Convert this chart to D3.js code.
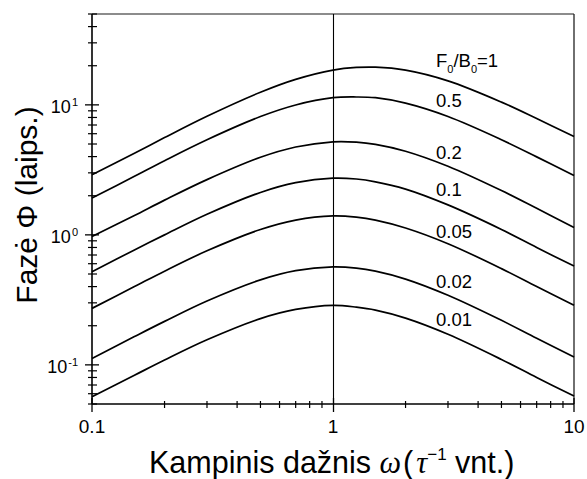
<!DOCTYPE html>
<html>
<head>
<meta charset="utf-8">
<script src="https://cdn.jsdelivr.net/npm/d3@7"></script>
<style>
  html, body { margin: 0; padding: 0; background: #fff; }
  svg { display: block; }
  text { font-family: "Liberation Sans", Arial, sans-serif; fill: #000; }
</style>
</head>
<body>
<svg id="chart" width="587" height="479"></svg>
<script>
// ---- data ----
const omega = [0.1, 0.15, 0.2, 0.3, 0.5, 0.7, 1, 1.25, 1.5, 2, 3, 5, 7, 10];
const ratios = ["1", "0.5", "0.2", "0.1", "0.05", "0.02", "0.01"];
const phiF1    = [2.9, 4.24, 5.6, 8.17, 12.5, 15.7, 18.5, 19.4, 19.5, 18.5, 15.3, 10.5, 7.85, 5.7];
const phiF05   = [1.92, 2.82, 3.72, 5.39, 8.13, 9.98, 11.35, 11.5, 11.35, 10.3, 8.13, 5.39, 3.98, 2.86];
const phiF02   = [0.97, 1.41, 1.85, 2.66, 3.95, 4.74, 5.2, 5.17, 4.97, 4.4, 3.37, 2.19, 1.6, 1.14];
const phiF01   = [0.52, 0.766, 1.0, 1.44, 2.12, 2.52, 2.73, 2.69, 2.56, 2.25, 1.70, 1.10, 0.80, 0.575];
const phiF005  = [0.272, 0.40, 0.526, 0.754, 1.10, 1.30, 1.40, 1.37, 1.30, 1.13, 0.855, 0.55, 0.40, 0.287];
const phiF002  = [0.112, 0.165, 0.216, 0.31, 0.451, 0.531, 0.567, 0.555, 0.526, 0.457, 0.343, 0.22, 0.16, 0.115];
const phiF001  = [0.0568, 0.0832, 0.109, 0.156, 0.227, 0.267, 0.287, 0.278, 0.264, 0.229, 0.172, 0.11, 0.080, 0.0575];
const seriesValues = [phiF1, phiF05, phiF02, phiF01, phiF005, phiF002, phiF001];
const xTickValues = [0.1, 1, 10];
const xTickLabels = ["0.1", "1", "10"];
const yTickValues = [0.1, 1, 10];
const yTickExponents = ["-1", "0", "1"];
const xDomain = [0.1, 10];
const yDomain = [0.05, 50];

// ---- layout ----
const L = 92, R = 574, T = 14, B = 404;
const svg = d3.select("#chart");
const x = d3.scaleLog().domain(xDomain).range([L, R]);
const y = d3.scaleLog().domain(yDomain).range([B, T]);

// frame top/right
svg.append("line").attr("x1", L).attr("x2", R).attr("y1", T).attr("y2", T)
  .attr("stroke", "#666").attr("stroke-width", 1.3);
svg.append("line").attr("x1", R).attr("x2", R).attr("y1", T).attr("y2", B)
  .attr("stroke", "#222").attr("stroke-width", 1.3);

// vertical line at omega = 1
svg.append("line").attr("x1", x(1) + 0.5).attr("x2", x(1) + 0.5).attr("y1", T).attr("y2", B)
  .attr("stroke", "#000").attr("stroke-width", 1.1);

// minor ticks lists
const xMinor = x.ticks().filter(v => xTickValues.indexOf(v) < 0);
const yMinor = [];
[0.01, 0.1, 1, 10].forEach(d => { for (let k = 2; k <= 9; k++) { const v = d * k; if (v >= yDomain[0] - 1e-9 && v <= yDomain[1] + 1e-9) yMinor.push(v); } });

// X axis
const gx = svg.append("g");
gx.append("line").attr("x1", L).attr("x2", R).attr("y1", B).attr("y2", B)
  .attr("stroke", "#000").attr("stroke-width", 1.6);
gx.selectAll(".xmin").data(xMinor).enter().append("line")
  .attr("x1", d => x(d)).attr("x2", d => x(d)).attr("y1", B - 3).attr("y2", B + 4)
  .attr("stroke", "#000").attr("stroke-width", 1.2);
gx.selectAll(".xmaj").data(xTickValues).enter().append("line")
  .attr("x1", d => x(d) + (d === 1 ? 0.5 : 0)).attr("x2", d => x(d) + (d === 1 ? 0.5 : 0))
  .attr("y1", B - 6).attr("y2", B + 8)
  .attr("stroke", "#000").attr("stroke-width", 1.3);
gx.selectAll(".xlab").data(xTickValues).enter().append("text")
  .attr("x", d => x(d)).attr("y", 433).attr("text-anchor", "middle")
  .attr("font-size", 19).text((d, i) => xTickLabels[i]);

// Y axis
const gy = svg.append("g");
gy.append("line").attr("x1", L).attr("x2", L).attr("y1", T).attr("y2", B)
  .attr("stroke", "#000").attr("stroke-width", 1.6);
gy.selectAll(".ymin").data(yMinor).enter().append("line")
  .attr("x1", L - 4).attr("x2", L + 5).attr("y1", d => y(d)).attr("y2", d => y(d))
  .attr("stroke", "#000").attr("stroke-width", 1.2);
gy.selectAll(".ymaj").data(yTickValues).enter().append("line")
  .attr("x1", L - 7).attr("x2", L + 7).attr("y1", d => y(d)).attr("y2", d => y(d))
  .attr("stroke", "#000").attr("stroke-width", 1.3);
const ylab = gy.selectAll(".ylab").data(yTickValues).enter().append("text")
  .attr("x", 78).attr("y", d => y(d) + 8).attr("text-anchor", "end").attr("font-size", 18);
ylab.append("tspan").text("10");
ylab.append("tspan").attr("dy", -7).attr("dx", 1).attr("font-size", 11).text((d, i) => yTickExponents[i]);

// curves
const line = d3.line().x(d => x(d[0])).y(d => y(d[1])).curve(d3.curveCatmullRom.alpha(0.5));
svg.append("g").selectAll("path").data(seriesValues).enter().append("path")
  .attr("d", vals => line(omega.map((w, i) => [w, vals[i]])))
  .attr("fill", "none").attr("stroke", "#000").attr("stroke-width", 1.7);

// curve labels
const labelBaselines = [67, 107.3, 159.3, 195.7, 237.7, 288.3, 326];
const labX = 436;
ratios.forEach((r, i) => {
  const t = svg.append("text").attr("x", labX).attr("y", labelBaselines[i]).attr("font-size", 18.5);
  if (i === 0) {
    t.append("tspan").text("F");
    t.append("tspan").attr("font-size", 11).attr("dy", 6).text("0");
    t.append("tspan").attr("dy", -6).text("/B");
    t.append("tspan").attr("font-size", 11).attr("dy", 6).text("0");
    t.append("tspan").attr("dy", -6).text("=" + r);
  } else {
    t.text(r);
  }
});

// axis titles
const xt = svg.append("text").attr("x", 149).attr("y", 473).attr("font-size", 30.5);
xt.append("tspan").text("Kampinis dažnis ");
xt.append("tspan").attr("font-family", "'Liberation Serif', 'Times New Roman', serif").attr("font-style", "italic").text("ω");
xt.append("tspan").attr("dx", 2).text("(");
xt.append("tspan").attr("dx", 3).attr("font-family", "'Liberation Serif', 'Times New Roman', serif").attr("font-style", "italic").text("τ");
xt.append("tspan").attr("font-size", 17).attr("dy", -13).text("−1");
xt.append("tspan").attr("dy", 13).text(" vnt.)");

svg.append("text").attr("transform", "translate(37,205) rotate(-90)")
  .attr("text-anchor", "middle").attr("font-size", 30)
  .text("Fazė Φ (laips.)");
</script>
</body>
</html>
